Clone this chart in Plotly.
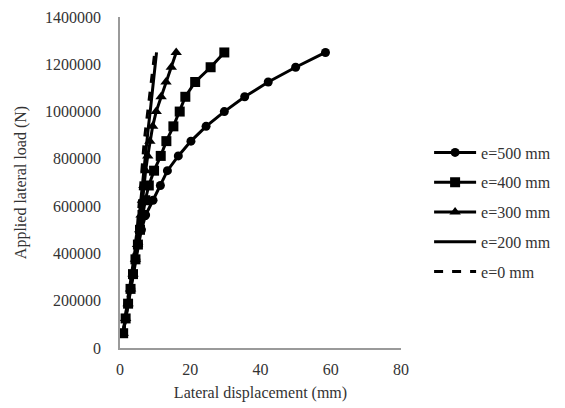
import plotly.graph_objects as go

loads = [62500 * k for k in range(1, 21)]

disp_e500 = [0.9, 1.6, 2.3, 3.1, 3.8, 4.5, 5.3, 6.1, 7.3, 9.4, 11.5, 13.5, 16.6, 20.2, 24.5, 29.7, 35.5, 42.2, 50.0, 58.5]
disp_e400 = [0.9, 1.6, 2.3, 3.0, 3.7, 4.4, 5.1, 5.7, 6.4, 7.2, 8.2, 9.7, 11.6, 13.2, 15.2, 17.0, 18.6, 21.4, 25.8, 29.7]
disp_e300 = [0.9, 1.6, 2.3, 3.0, 3.7, 4.4, 5.0, 5.6, 6.0, 6.4, 6.8, 7.3, 7.9, 8.5, 9.3, 10.3, 11.7, 13.1, 14.6, 16.0]
disp_e200 = [0.9, 1.5, 2.1, 2.8, 3.4, 4.0, 4.6, 5.1, 5.5, 5.9, 6.3, 6.7, 7.1, 7.6, 8.1, 8.6, 9.1, 9.6, 10.0, 10.4]
disp_e0 = [0.9, 1.4, 2.0, 2.6, 3.2, 3.8, 4.4, 4.9, 5.2, 5.5, 5.8, 6.1, 6.5, 6.9, 7.4, 7.9, 8.5, 9.1, 9.5, 9.9]

names = ["e=500 mm", "e=400 mm", "e=300 mm", "e=200 mm", "e=0 mm"]
series = [disp_e500, disp_e400, disp_e300, disp_e200, disp_e0]
symbols = ["circle", "square", "triangle-up", None, None]
dashes = ["solid", "solid", "solid", "solid", "dash"]
msizes = [9, 10, 10, 0, 0]

FONT = "Liberation Serif"

fig = go.Figure()
for i, (nm, xs) in enumerate(zip(names, series)):
    if symbols[i]:
        fig.add_trace(go.Scatter(
            x=xs, y=loads, name=nm, mode="lines+markers", legendgroup=nm,
            line=dict(color="black", width=3, dash=dashes[i]),
            marker=dict(symbol=symbols[i], size=msizes[i], color="black"),
        ))
    else:
        fig.add_trace(go.Scatter(
            x=xs, y=loads, name=nm, mode="lines", legendgroup=nm,
            line=dict(color="black", width=3, dash=dashes[i]),
        ))

fig.update_layout(
    width=557, height=400,
    margin=dict(l=112, r=162, t=9, b=60),
    paper_bgcolor="white", plot_bgcolor="white",
    font=dict(family=FONT, size=16, color="#333333"),
    showlegend=True,
    legend=dict(x=1.1, y=0.642, xanchor="left", yanchor="top",
                font=dict(family=FONT, size=16, color="#333333"),
                bgcolor="rgba(0,0,0,0)", itemwidth=42, tracegroupgap=6),
)
fig.update_xaxes(range=[0, 80], dtick=20, showline=True, linecolor="#9a9a9a", linewidth=1.5,
                 showgrid=False, zeroline=False, ticks="", automargin=False, ticklabelstandoff=6,
                 title=dict(text="Lateral displacement (mm)", font=dict(size=16), standoff=10))
fig.update_yaxes(range=[0, 1400000], dtick=200000, tickformat="d", showline=True, linecolor="#9a9a9a",
                 linewidth=1.5, showgrid=False, zeroline=False, ticks="", automargin=False,
                 ticklabelstandoff=14,
                 title=dict(text="Applied lateral load (N)", font=dict(size=16), standoff=14))

fig.write_html("out.html")
